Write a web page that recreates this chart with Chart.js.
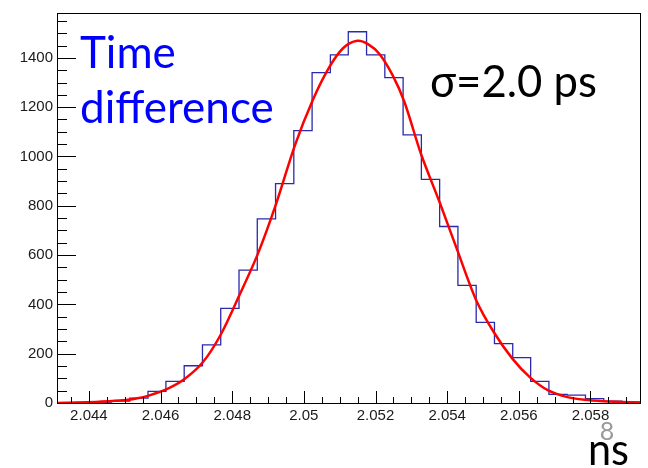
<!DOCTYPE html>
<html>
<head>
<meta charset="utf-8">
<script src="https://cdn.jsdelivr.net/npm/chart.js@4.4.1/dist/chart.umd.min.js"></script>
<style>
  html, body { margin: 0; padding: 0; background: #fff; }
  #wrap { width: 648px; height: 468px; }
</style>
</head>
<body>
<div id="wrap"><canvas id="histChart" width="648" height="468"></canvas></div>
<script>
// histogram bin edges (ns) and counts
const binEdges = [
  2.04310, 2.04361, 2.04412, 2.04463, 2.04514, 2.04565, 2.04615, 2.04666,
  2.04717, 2.04768, 2.04819, 2.04870, 2.04921, 2.04972, 2.05023, 2.05074,
  2.05124, 2.05175, 2.05226, 2.05277, 2.05328, 2.05379, 2.05430, 2.05481,
  2.05532, 2.05583, 2.05633, 2.05684, 2.05735, 2.05786, 2.05837, 2.05888,
  2.05939
];
const binCounts = [
  1, 2, 4, 8, 20, 47, 88, 151,
  236, 384, 539, 747, 890, 1105, 1340, 1412,
  1506, 1412, 1320, 1088, 907, 716, 477, 327,
  241, 184, 88, 35, 32, 18, 8, 3
];

// red gaussian fit curve
const fitX = [
  2.04311, 2.04396, 2.04453, 2.04504, 2.04532, 2.04567, 2.04616, 2.04665,
  2.04718, 2.04769, 2.04820, 2.04871, 2.04923, 2.04975, 2.05025, 2.05071,
  2.05110, 2.05149, 2.05180, 2.05211, 2.05248, 2.05281, 2.05327, 2.05380,
  2.05429, 2.05481, 2.05529, 2.05582, 2.05632, 2.05682, 2.05733, 2.05784,
  2.05836, 2.05886, 2.05941
];
const fitY = [
  0.5, 3, 7, 12, 18, 30, 55, 95,
  165, 280, 437, 603, 810, 1045, 1229, 1362,
  1440, 1469, 1455, 1416, 1329, 1220, 1010, 810,
  617, 417, 290, 180, 103, 51, 25, 13,
  7, 4, 2
];

const xTicks = [2.044, 2.046, 2.048, 2.05, 2.052, 2.054, 2.056, 2.058];
const yTicks = [0, 200, 400, 600, 800, 1000, 1200, 1400];
const xMin = 2.04311, xMax = 2.05941;
const yMin = 0, yMax = 1582;

const tickFont = { family: "'Liberation Sans', Arial, sans-serif", size: 15 };
const noteFont = "Lato, 'Open Sans', sans-serif";

// ROOT-like frame: inward ticks, box, and the slide annotations
const rootFrame = {
  id: "rootFrame",
  afterDraw(chart) {
    const ctx = chart.ctx;
    const a = chart.chartArea;
    const xs = chart.scales.x;
    const ys = chart.scales.y;

    ctx.save();
    ctx.strokeStyle = "#000";
    ctx.lineWidth = 1;
    ctx.beginPath();
    for (let v = 0; v <= yMax; v += 50) {
      const y = Math.round(ys.getPixelForValue(v)) + 0.5;
      const len = v % 200 === 0 ? 19 : 10;
      ctx.moveTo(a.left, y);
      ctx.lineTo(a.left + len, y);
    }
    for (let i = Math.ceil(xMin / 0.0005); i * 0.0005 <= xMax; i++) {
      const x = Math.round(xs.getPixelForValue(i * 0.0005)) + 0.5;
      const len = i % 4 === 0 ? 12 : 6;
      ctx.moveTo(x, a.bottom);
      ctx.lineTo(x, a.bottom - len);
    }
    ctx.stroke();
    ctx.strokeRect(a.left + 0.5, a.top + 0.5, a.right - a.left - 1, a.bottom - a.top);

    ctx.textAlign = "left";
    ctx.textBaseline = "alphabetic";
    ctx.fillStyle = "#0000ff";
    ctx.font = "44px " + noteFont;
    ctx.fillText("Time", 80, 68, 96);
    ctx.fillText("difference", 80, 123, 196);

    ctx.fillStyle = "#000";
    ctx.fillText("\u03c3=2.0 ps", 430, 97, 167);
    ctx.fillText("ns", 588, 465, 41);

    ctx.fillStyle = "#999";
    ctx.font = "25px " + noteFont;
    ctx.textAlign = "center";
    ctx.fillText("8", 607, 440);
    ctx.restore();
  }
};

function buildChart() {
  const histPoints = binCounts.map((c, i) => ({ x: binEdges[i], y: c }));
  histPoints.push({ x: binEdges[binEdges.length - 1], y: binCounts[binCounts.length - 1] });
  const fitPoints = fitX.map((x, i) => ({ x: x, y: fitY[i] }));

  new Chart(document.getElementById("histChart"), {
    type: "scatter",
    data: {
      datasets: [
        {
          label: "fit",
          data: fitPoints,
          showLine: true,
          borderColor: "#ff0000",
          borderWidth: 2.5,
          pointRadius: 0,
          tension: 0.3,
          order: 0
        },
        {
          label: "hist",
          data: histPoints,
          showLine: true,
          stepped: "before",
          borderColor: "#2a2aae",
          borderWidth: 1.3,
          pointRadius: 0,
          order: 1
        }
      ]
    },
    options: {
      responsive: false,
      animation: false,
      layout: { padding: { top: 7, right: 7, left: 0, bottom: 0 } },
      plugins: {
        legend: { display: false },
        tooltip: { enabled: false }
      },
      scales: {
        x: {
          type: "linear",
          min: xMin,
          max: xMax,
          grid: { display: false, drawTicks: false },
          border: { display: false },
          afterBuildTicks: (s) => { s.ticks = xTicks.map(v => ({ value: v })); },
          afterFit: (s) => { s.height = 65; },
          ticks: {
            padding: 4,
            maxRotation: 0,
            autoSkip: false,
            color: "#1a1a1a",
            font: tickFont,
            callback: (v) => Number(v.toFixed(3)).toString()
          }
        },
        y: {
          type: "linear",
          min: yMin,
          max: yMax,
          grid: { display: false, drawTicks: false },
          border: { display: false },
          afterBuildTicks: (s) => { s.ticks = yTicks.map(v => ({ value: v })); },
          afterFit: (s) => { s.width = 57; },
          ticks: {
            padding: 4,
            autoSkip: false,
            color: "#1a1a1a",
            font: tickFont,
            callback: (v) => String(v)
          }
        }
      }
    },
    plugins: [rootFrame]
  });
}

buildChart();
</script>
</body>
</html>
